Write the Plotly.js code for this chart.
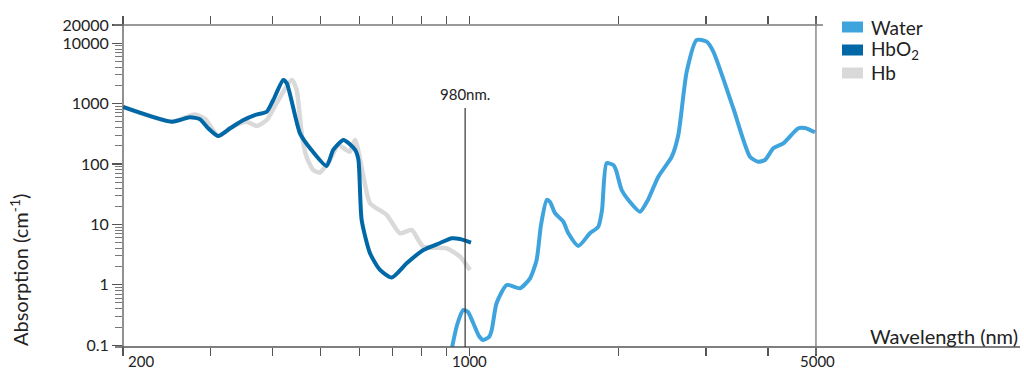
<!DOCTYPE html>
<html>
<head>
<meta charset="utf-8">
<script src="https://cdn.plot.ly/plotly-3.0.1.min.js"></script>
<style>html,body{margin:0;padding:0;background:#fff;}#chart{width:1024px;height:372px;}</style>
</head>
<body>
<div id="chart"></div>
<script>
// Wavelength (nm) and absorption (cm^-1)
var hbo2Wavelength = [200, 251, 273, 286, 297, 311, 329, 350, 369, 390, 402, 421, 428, 455, 477, 515, 531, 557, 588, 597, 606, 630, 660, 697, 747, 807, 872, 921, 957, 1007];
var hbo2Absorption = [880, 501, 593, 549, 390, 291, 390, 535, 647, 734, 1148, 2460, 2168, 322, 182, 92.7, 171, 250, 171, 116.5, 11.8, 3.32, 1.76, 1.32, 2.27, 3.77, 4.92, 5.89, 5.73, 5.01];

var hbWavelength = [200, 251, 279, 293, 311, 332, 355, 372, 390, 408, 438, 448, 459, 469, 484, 499, 523, 544, 564, 574, 588, 611, 630, 681, 724, 764, 807, 900, 957, 1002];
var hbAbsorption = [880, 501, 660, 556, 291, 410, 501, 426, 535, 1012, 2460, 1680, 302, 132, 79.6, 72.3, 116.5, 206, 171, 160, 250, 61.6, 22.4, 14.3, 7.12, 8.08, 4.27, 4.02, 2.92, 1.76];

var waterWavelength = [918, 944, 972, 993, 1018, 1045, 1066, 1095, 1109, 1134, 1189, 1264, 1325, 1366, 1394, 1432, 1454, 1488, 1546, 1583, 1658, 1750, 1819, 1851, 1891, 1951, 1975, 2028, 2108, 2208, 2291, 2404, 2559, 2638, 2743, 2873, 3010, 3104, 3406, 3680, 3824, 3946, 4102, 4297, 4607, 4752, 4977];
var waterAbsorption = [0.076, 0.216, 0.383, 0.355, 0.231, 0.142, 0.122, 0.137, 0.179, 0.494, 0.993, 0.875, 1.28, 2.57, 9.77, 25.4, 23.5, 15.3, 11.1, 7.12, 4.39, 7.12, 9.16, 17.3, 103, 96.2, 79.6, 37.1, 23.5, 16.2, 25.4, 61.6, 132, 302, 3375, 11300, 10590, 7230, 836, 132, 109, 116.5, 182, 220, 390, 395, 335];

var seriesNames = ["Water", "HbO<sub>2</sub>", "Hb"];
var seriesColors = ["#3fa4dd", "#0068a7", "#d9d9d9"];

var xTickVals = [200, 300, 400, 500, 600, 700, 800, 900, 1000, 2000, 3000, 4000, 5000];
var xLabelVals = [200, 1000, 5000];
var yTickVals = [0.1, 1, 10, 100, 1000, 10000, 20000];
var yTickText = ["0.1", "1", "10", "100", "1000", "10000", "20000"];
var markerWavelength = 980;

var minorY = [];
[0.1, 1, 10, 100, 1000].forEach(function (d) { for (var k = 2; k <= 9; k++) minorY.push(+(d * k).toPrecision(3)); });

var FONT = "Lato, 'Open Sans', sans-serif";
var LINE = "#555";
var PW = 897, PH = 322;
var PXDEC = 495.7;
function px(v) { return (Math.log10(v) - Math.log10(200)) * PXDEC / PW; }

var traces = [
  {x: hbWavelength, y: hbAbsorption, mode: "lines", line: {color: seriesColors[2], width: 4.5, shape: "spline", smoothing: 0.6}, showlegend: false, hoverinfo: "skip"},
  {x: hbo2Wavelength, y: hbo2Absorption, mode: "lines", line: {color: seriesColors[1], width: 4, shape: "spline", smoothing: 0.6}, showlegend: false, hoverinfo: "skip"},
  {x: waterWavelength, y: waterAbsorption, mode: "lines", line: {color: seriesColors[0], width: 4, shape: "spline", smoothing: 0.6}, showlegend: false, hoverinfo: "skip"}
];

var shapes = [
  {type: "line", xref: "paper", yref: "paper", x0: -8 / PW, x1: 1, y0: 0, y1: 0, line: {color: LINE, width: 1.3}},
  {type: "line", xref: "paper", yref: "paper", x0: -9 / PW, x1: 700 / PW, y0: 1, y1: 1, line: {color: "#777", width: 1.3}},
  {type: "line", xref: "paper", yref: "paper", x0: 0, x1: 0, y0: -7 / PH, y1: 1 + 6 / PH, line: {color: LINE, width: 1.3}},
  {type: "line", xref: "x", yref: "paper", x0: xLabelVals[2], x1: xLabelVals[2], y0: -7 / PH, y1: 1 + 6 / PH, line: {color: "#777", width: 1.3}},
  {type: "line", xref: "x", yref: "paper", x0: markerWavelength, x1: markerWavelength, y0: 0, y1: (347 - 108) / PH, line: {color: "#333", width: 1.2}}
];

var annotations = [];
var legendY = [27, 50, 73];
seriesNames.forEach(function (n, i) {
  var yc = (347 - legendY[i]) / PH;
  shapes.push({type: "rect", xref: "paper", yref: "paper", x0: (842 - 123) / PW, x1: (863 - 123) / PW, y0: yc - 5.5 / PH, y1: yc + 5.5 / PH, fillcolor: seriesColors[i], line: {width: 0}});
  annotations.push({xref: "paper", yref: "paper", x: (869 - 123) / PW, y: yc, xanchor: "left", yanchor: "middle", text: n, showarrow: false, font: {family: FONT, size: 19, color: "#222"}});
});

var tickFont = {family: FONT, size: 16, color: "#222"};
var xLabFont = {family: FONT, size: 15, color: "#222"};
annotations.push({xref: "paper", yref: "paper", x: 3 / PW, y: -14 / PH, xanchor: "left", yanchor: "middle", text: String(xLabelVals[0]), showarrow: false, font: xLabFont});
annotations.push({xref: "paper", yref: "paper", x: px(xLabelVals[1]), y: -14 / PH, xanchor: "center", yanchor: "middle", text: String(xLabelVals[1]), showarrow: false, font: xLabFont});
annotations.push({xref: "paper", yref: "paper", x: px(xLabelVals[2]) + 2 / PW, y: -14 / PH, xanchor: "center", yanchor: "middle", text: String(xLabelVals[2]), showarrow: false, font: xLabFont});
annotations.push({xref: "x", yref: "paper", x: Math.log10(markerWavelength), y: (347 - 94) / PH, xanchor: "center", yanchor: "middle", text: markerWavelength + "nm.", showarrow: false, font: {family: FONT, size: 15, color: "#222"}});
annotations.push({xref: "paper", yref: "paper", x: 1, y: 11 / PH, xanchor: "right", yanchor: "middle", text: "Wavelength (nm)", showarrow: false, font: {family: FONT, size: 20, color: "#222"}});
annotations.push({xref: "paper", yref: "paper", x: -104 / PW, y: 77 / PH, xanchor: "center", yanchor: "middle", textangle: -90, text: "Absorption (cm<sup>-1</sup>)", showarrow: false, font: {family: FONT, size: 20, color: "#222"}});

var layout = {
  width: 1024, height: 372,
  margin: {l: 123, r: 4, t: 25, b: 25, pad: 0},
  paper_bgcolor: "#fff", plot_bgcolor: "#fff",
  showlegend: false,
  font: {family: FONT, color: "#222"},
  xaxis: {
    type: "log", range: [Math.log10(200), Math.log10(200) + PW / PXDEC],
    tickmode: "array", tickvals: xTickVals, showticklabels: false,
    ticks: "outside", ticklen: 8, tickwidth: 1.2, tickcolor: LINE, mirror: "ticks",
    showline: false, showgrid: false, zeroline: false, fixedrange: true
  },
  yaxis: {
    type: "log", range: [-1.03, Math.log10(20000)],
    tickmode: "array", tickvals: yTickVals, ticktext: yTickText,
    ticks: "outside", ticklen: 10, tickwidth: 1.2, tickcolor: LINE,
    tickfont: tickFont,
    minor: {tickmode: "array", tickvals: minorY, ticks: "outside", ticklen: 7, tickwidth: 1, tickcolor: "#777", showgrid: false},
    showline: false, showgrid: false, zeroline: false, fixedrange: true
  },
  shapes: shapes,
  annotations: annotations
};

Plotly.newPlot("chart", traces, layout, {staticPlot: true, displayModeBar: false});
</script>
</body>
</html>
